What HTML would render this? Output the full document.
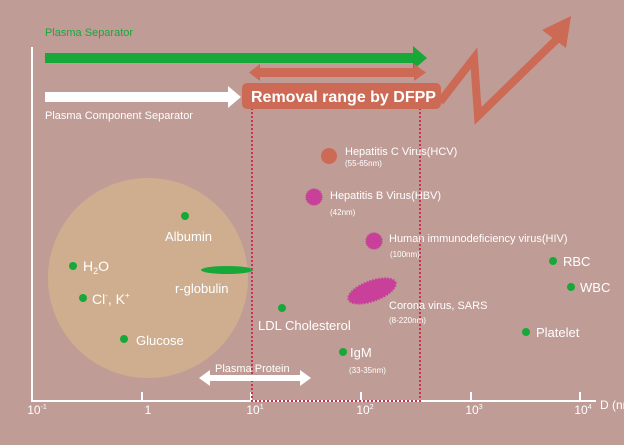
<!DOCTYPE html>
<html><head><style>
html,body{margin:0;padding:0;background:#c09c96;}
svg{display:block;font-family:"Liberation Sans",sans-serif;}
</style></head><body>
<svg width="624" height="445" viewBox="0 0 624 445">
<rect width="624" height="445" fill="#c09c96"/>
<circle cx="148" cy="278" r="100" fill="#cfae90"/>
<g stroke="#fff" stroke-width="2" fill="none">
<line x1="32" y1="47" x2="32" y2="402"/>
<line x1="31" y1="401" x2="596" y2="401"/>
<line x1="142" y1="392" x2="142" y2="401"/>
<line x1="251" y1="392" x2="251" y2="401"/>
<line x1="361" y1="392" x2="361" y2="401"/>
<line x1="471" y1="392" x2="471" y2="401"/>
<line x1="580" y1="392" x2="580" y2="401"/>
</g>
<g fill="#fff" font-size="12" text-anchor="middle">
<text x="37" y="414">10<tspan font-size="7" dy="-5">-1</tspan></text>
<text x="148" y="414">1</text>
<text x="255" y="414">10<tspan font-size="7" dy="-5">1</tspan></text>
<text x="365" y="414">10<tspan font-size="7" dy="-5">2</tspan></text>
<text x="474" y="414">10<tspan font-size="7" dy="-5">3</tspan></text>
<text x="583" y="414">10<tspan font-size="7" dy="-5">4</tspan></text>
<text x="600" y="409" text-anchor="start">D (nm)</text>
</g>
<rect x="252" y="104" width="168" height="297" fill="none" stroke="#d03050" stroke-width="2" stroke-dasharray="2,2"/>
<rect x="45" y="53" width="370" height="10" fill="#18a83a"/>
<polygon points="413,46 427,58 413,70" fill="#18a83a"/>
<text x="45" y="36" fill="#18a83a" font-size="11">Plasma Separator</text>
<rect x="258" y="68" width="158" height="9" fill="#cc6a55"/>
<polygon points="260,64 249,72.5 260,81" fill="#cc6a55"/>
<polygon points="414,64 426,72.5 414,81" fill="#cc6a55"/>
<rect x="45" y="92" width="185" height="10" fill="#fff"/>
<polygon points="228,86 241,97 228,108" fill="#fff"/>
<text x="45" y="119" fill="#fff" font-size="11">Plasma Component Separator</text>
<polyline points="440,102 474,58 478,116 558,38" fill="none" stroke="#cc6a55" stroke-width="8" stroke-linejoin="miter"/>
<polygon points="571,16 542,30 566,48" fill="#cc6a55"/>
<rect x="242" y="83" width="199" height="26" rx="5" fill="#cc6a55"/>
<text x="251" y="102" fill="#fff" font-size="16" font-weight="bold">Removal range by DFPP</text>
<g fill="#18a83a">
<circle cx="185" cy="216" r="4"/>
<circle cx="73" cy="266" r="4"/>
<circle cx="83" cy="298" r="4"/>
<circle cx="124" cy="339" r="4"/>
<circle cx="282" cy="308" r="4"/>
<circle cx="343" cy="352" r="4"/>
<circle cx="553" cy="261" r="4"/>
<circle cx="571" cy="287" r="4"/>
<circle cx="526" cy="332" r="4"/>
<ellipse cx="227" cy="270" rx="26" ry="4"/>
</g>
<g fill="#fff" font-size="13">
<text x="165" y="241">Albumin</text>
<text x="83" y="271" font-size="14">H<tspan font-size="9" dy="3">2</tspan><tspan dy="-3">O</tspan></text>
<text x="92" y="304" font-size="14">Cl<tspan font-size="8" dy="-6">-</tspan><tspan dy="6">,  K</tspan><tspan font-size="8" dy="-6">+</tspan></text>
<text x="136" y="345">Glucose</text>
<text x="175" y="293">r-globulin</text>
<text x="258" y="330">LDL Cholesterol</text>
<text x="350" y="357">IgM</text>
<text x="563" y="266">RBC</text>
<text x="580" y="292">WBC</text>
<text x="536" y="337">Platelet</text>
</g>
<g fill="#fff" font-size="8">
<text x="349" y="373">(33-35nm)</text>
<text x="345" y="166">(55-65nm)</text>
<text x="330" y="215">(42nm)</text>
<text x="390" y="257">(100nm)</text>
<text x="389" y="323">(8-220nm)</text>
</g>
<g fill="#fff" font-size="11">
<text x="345" y="155">Hepatitis C Virus(HCV)</text>
<text x="330" y="199">Hepatitis B Virus(HBV)</text>
<text x="389" y="242">Human immunodeficiency virus(HIV)</text>
<text x="389" y="309">Corona virus, SARS</text>
</g>
<circle cx="329" cy="156" r="8" fill="#cc6a55"/>
<circle cx="314" cy="197" r="8" fill="#c8409a" stroke="#c8409a" stroke-width="1.5" stroke-dasharray="1,1"/>
<circle cx="374" cy="241" r="8" fill="#c8409a" stroke="#c8409a" stroke-width="1.5" stroke-dasharray="1,1"/>
<ellipse cx="372" cy="291" rx="25" ry="10" transform="rotate(-20 372 291)" fill="#c8409a" stroke="#c8409a" stroke-width="2" stroke-dasharray="1.5,1.5"/>
<rect x="208" y="375" width="94" height="6" fill="#fff"/>
<polygon points="210,370 199,378 210,386" fill="#fff"/>
<polygon points="300,370 311,378 300,386" fill="#fff"/>
<text x="215" y="372" fill="#fff" font-size="11">Plasma Protein</text>
</svg>
</body></html>
